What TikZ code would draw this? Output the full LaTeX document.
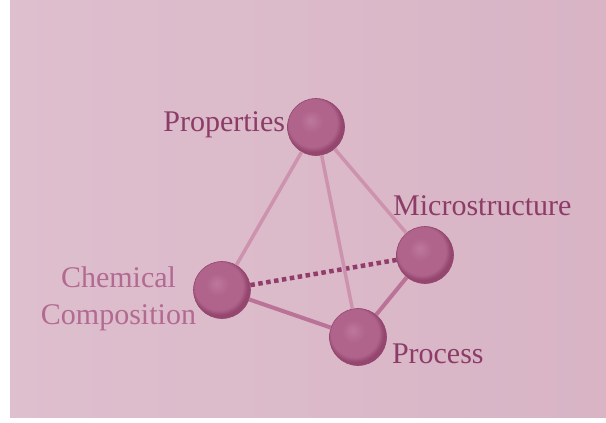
\documentclass[tikz,border=0pt]{standalone}
\usepackage{fontspec}
\setmainfont{Liberation Serif}
\usepackage{tikz}
\usetikzlibrary{positioning}
\definecolor{bgleft}{RGB}{222,191,206}
\definecolor{bgright}{RGB}{216,180,197}
\definecolor{linkcol}{RGB}{204,146,174}
\definecolor{linkdark}{RGB}{186,114,150}
\definecolor{dotcol}{RGB}{146,60,106}
\definecolor{sphhi}{RGB}{190,120,156}
\definecolor{sphmid}{RGB}{176,100,139}
\definecolor{sphlo}{RGB}{148,70,110}
\definecolor{txtcol}{RGB}{140,60,102}
\definecolor{txtlight}{RGB}{178,106,145}
\pgfdeclareradialshading{sphereshade}{\pgfpoint{-5bp}{6bp}}{color(0bp)=(sphhi); color(10bp)=(sphmid); color(21bp)=(sphmid); color(25bp)=(sphlo); color(50bp)=(sphlo)}
\tikzstyle{sphere} = [circle, minimum size=57pt, inner sep=0pt, shading=sphereshade, draw=sphlo, line width=0.6pt]
\tikzstyle{txt} = [inner sep=0pt, text=txtcol, font=\fontsize{30}{37}\selectfont]
\tikzstyle{link} = [linkcol, line width=3.5pt]
\tikzstyle{boldlink} = [linkdark, line width=4pt]
\tikzstyle{dotlink} = [dotcol, line width=4.5pt, dash pattern=on 4.5pt off 3.5pt]

\begin{document}
\begin{tikzpicture}[x=1pt, y=-1pt]
    \useasboundingbox (0,0) rectangle (606,423);
    \fill [left color=bgleft, right color=bgright] (10,0) rectangle (606,417);

    \node (props) [sphere] at (316,127) {};
    \node (micro) [sphere] at (425,255) {};
    \node (chem) [sphere] at (222,290) {};
    \node (proc) [sphere] at (358,337) {};

    \node (propstxt) [txt, left=2pt of props, yshift=2pt] {Properties};
    \node (microtxt) [txt, above=10.5pt of micro, anchor=south west, xshift=-32pt] {Microstructure};
    \node (chemtxt) [txt, text=txtlight, align=center, left=-3pt of chem, yshift=-8.5pt] {Chemical\\Composition};
    \node (proctxt) [txt, right=5pt of proc, yshift=-17pt] {Process};

    \draw [dotlink] (chem) -- (micro);
    \draw [link] (props) -- (chem);
    \draw [link] (props) -- (proc);
    \draw [link] (props) -- (micro);
    \draw [boldlink] (chem) -- (proc);
    \draw [boldlink] (micro) -- (proc);
\end{tikzpicture}
\end{document}
